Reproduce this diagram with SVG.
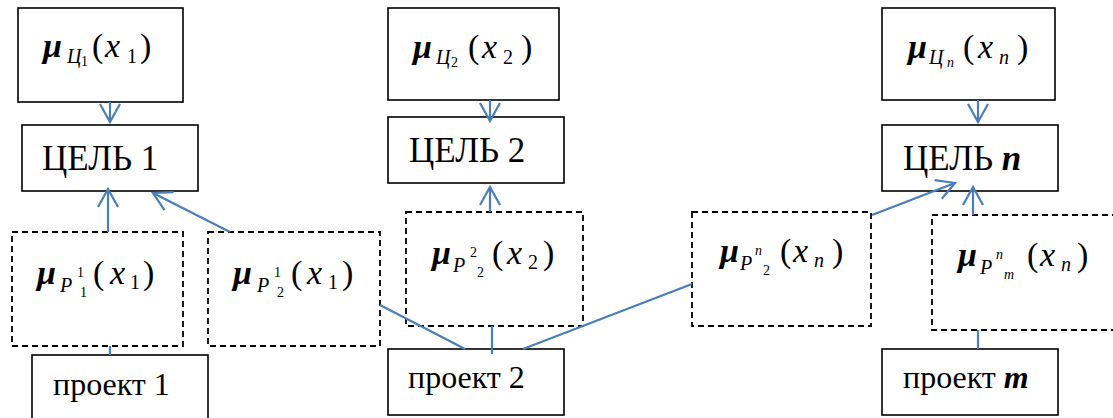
<svg xmlns="http://www.w3.org/2000/svg" width="1113" height="418" viewBox="0 0 1113 418">
<style>
.box{fill:#fff;stroke:#000;stroke-width:1.6}
.dash{fill:none;stroke:#000;stroke-width:1.8;stroke-dasharray:6 4}
.con{fill:none;stroke:#4a7ebb;stroke-width:2.2}
</style>
<defs>
<marker id="ah" markerUnits="userSpaceOnUse" markerWidth="24" markerHeight="24" refX="19" refY="11" orient="auto">
<path d="M1,1 L19,11 L1,21" fill="none" stroke="#4a7ebb" stroke-width="2.2"/>
</marker>
</defs>
<rect x="0" y="0" width="1113" height="418" fill="#fff"/>

<g id="mu-c1">
<rect class="box" x="18" y="8" width="165" height="94"/>
<text font-family="Liberation Serif, serif" font-size="34"><tspan font-weight="bold" font-style="italic" x="43" y="57">μ</tspan><tspan font-style="italic" font-size="20" x="67" y="63">Ц</tspan><tspan font-size="14" x="81" y="66">1</tspan><tspan x="92" y="57">(</tspan><tspan font-style="italic" x="105" y="57">x</tspan><tspan font-size="20" x="127" y="63">1</tspan><tspan x="140" y="57">)</tspan></text>
</g>
<g id="goal1">
<rect class="box" x="22" y="125" width="176" height="66"/>
<text font-family="Liberation Serif, serif" font-size="35" x="42" y="170">ЦЕЛЬ 1</text>
</g>
<g id="mu-p11">
<rect class="dash" x="12" y="232" width="171" height="114"/>
<text font-family="Liberation Serif, serif" font-size="34"><tspan font-weight="bold" font-style="italic" x="37" y="284">μ</tspan><tspan font-style="italic" font-size="20" x="60" y="292">P</tspan><tspan font-size="14" x="77" y="277">1</tspan><tspan font-size="14" x="80" y="297">1</tspan><tspan x="93" y="284">(</tspan><tspan font-style="italic" x="110" y="284">x</tspan><tspan font-size="20" x="130" y="289">1</tspan><tspan x="143" y="284">)</tspan></text>
</g>
<g id="mu-p12">
<rect class="dash" x="208" y="232" width="172" height="114"/>
<text font-family="Liberation Serif, serif" font-size="34"><tspan font-weight="bold" font-style="italic" x="233" y="284">μ</tspan><tspan font-style="italic" font-size="20" x="257" y="292">P</tspan><tspan font-size="14" x="274" y="277">1</tspan><tspan font-size="14" x="277" y="297">2</tspan><tspan x="291" y="284">(</tspan><tspan font-style="italic" x="307" y="284">x</tspan><tspan font-size="20" x="328" y="289">1</tspan><tspan x="342" y="284">)</tspan></text>
</g>
<g id="project1">
<rect class="box" x="32" y="355" width="176" height="70"/>
<text font-family="Liberation Serif, serif" font-size="32" x="53" y="395">проект 1</text>
</g>

<g id="mu-c2">
<rect class="box" x="388" y="8" width="171" height="92"/>
<text font-family="Liberation Serif, serif" font-size="34"><tspan font-weight="bold" font-style="italic" x="413" y="58">μ</tspan><tspan font-style="italic" font-size="20" x="436" y="64">Ц</tspan><tspan font-size="14" x="451" y="67">2</tspan><tspan x="468" y="58">(</tspan><tspan font-style="italic" x="482" y="58">x</tspan><tspan font-size="20" x="503" y="64">2</tspan><tspan x="521" y="58">)</tspan></text>
</g>
<g id="goal2">
<rect class="box" x="388" y="117" width="176" height="66"/>
<text font-family="Liberation Serif, serif" font-size="35" x="409" y="162">ЦЕЛЬ 2</text>
</g>
<g id="mu-p22">
<rect class="dash" x="406" y="212" width="177" height="114"/>
<text font-family="Liberation Serif, serif" font-size="34"><tspan font-weight="bold" font-style="italic" x="432" y="264">μ</tspan><tspan font-style="italic" font-size="20" x="453" y="272">P</tspan><tspan font-size="14" x="470" y="257">2</tspan><tspan font-size="14" x="477" y="277">2</tspan><tspan x="492" y="264">(</tspan><tspan font-style="italic" x="507" y="264">x</tspan><tspan font-size="20" x="528" y="269">2</tspan><tspan x="543" y="264">)</tspan></text>
</g>
<g id="project2">
<rect class="box" x="388" y="349" width="176" height="66"/>
<text font-family="Liberation Serif, serif" font-size="32" x="408" y="388">проект 2</text>
</g>

<g id="mu-cn">
<rect class="box" x="882" y="8" width="173" height="92"/>
<text font-family="Liberation Serif, serif" font-size="34"><tspan font-weight="bold" font-style="italic" x="908" y="58">μ</tspan><tspan font-style="italic" font-size="20" x="929" y="64">Ц</tspan><tspan font-style="italic" font-size="14" x="947" y="67">n</tspan><tspan x="963" y="58">(</tspan><tspan font-style="italic" x="978" y="58">x</tspan><tspan font-style="italic" font-size="20" x="999" y="64">n</tspan><tspan x="1017" y="58">)</tspan></text>
</g>
<g id="goaln">
<rect class="box" x="882" y="125" width="176" height="66"/>
<text font-family="Liberation Serif, serif" font-size="35" x="903" y="170">ЦЕЛЬ <tspan font-weight="bold" font-style="italic">n</tspan></text>
</g>
<g id="mu-pn2">
<rect class="dash" x="692" y="212" width="179" height="114"/>
<text font-family="Liberation Serif, serif" font-size="34"><tspan font-weight="bold" font-style="italic" x="720" y="262">μ</tspan><tspan font-style="italic" font-size="20" x="740" y="270">P</tspan><tspan font-style="italic" font-size="14" x="755" y="255">n</tspan><tspan font-size="14" x="763" y="275">2</tspan><tspan x="780" y="262">(</tspan><tspan font-style="italic" x="793" y="262">x</tspan><tspan font-style="italic" font-size="20" x="814" y="267">n</tspan><tspan x="832" y="262">)</tspan></text>
</g>
<g id="mu-pnm">
<rect class="dash" x="932" y="215" width="200" height="115"/>
<text font-family="Liberation Serif, serif" font-size="34"><tspan font-weight="bold" font-style="italic" x="958" y="266">μ</tspan><tspan font-style="italic" font-size="20" x="980" y="274">P</tspan><tspan font-style="italic" font-size="14" x="996" y="259">n</tspan><tspan font-style="italic" font-size="14" x="1004" y="279">m</tspan><tspan x="1027" y="266">(</tspan><tspan font-style="italic" x="1040" y="266">x</tspan><tspan font-style="italic" font-size="20" x="1061" y="271">n</tspan><tspan x="1077" y="266">)</tspan></text>
</g>
<g id="projectm">
<rect class="box" x="882" y="349" width="176" height="66"/>
<text font-family="Liberation Serif, serif" font-size="32" x="903" y="388">проект <tspan font-weight="bold" font-style="italic">m</tspan></text>
</g>

<g id="connectors">
<line class="con" x1="110" y1="102" x2="110" y2="122" marker-end="url(#ah)"/>
<line class="con" x1="108" y1="232" x2="108" y2="189" marker-end="url(#ah)"/>
<line class="con" x1="230" y1="232" x2="153" y2="193" marker-end="url(#ah)"/>
<line class="con" x1="110" y1="346" x2="110" y2="355"/>
<line class="con" x1="380" y1="305" x2="465" y2="349"/>
<line class="con" x1="490" y1="100" x2="490" y2="121" marker-end="url(#ah)"/>
<line class="con" x1="490" y1="212" x2="490" y2="187" marker-end="url(#ah)"/>
<line class="con" x1="492" y1="326" x2="492" y2="354"/>
<line class="con" x1="523" y1="349" x2="692" y2="284"/>
<line class="con" x1="978" y1="100" x2="978" y2="122" marker-end="url(#ah)"/>
<line class="con" x1="872" y1="215" x2="955" y2="183" marker-end="url(#ah)"/>
<line class="con" x1="973" y1="215" x2="973" y2="187" marker-end="url(#ah)"/>
<line class="con" x1="978" y1="330" x2="978" y2="349"/>
</g>
</svg>
